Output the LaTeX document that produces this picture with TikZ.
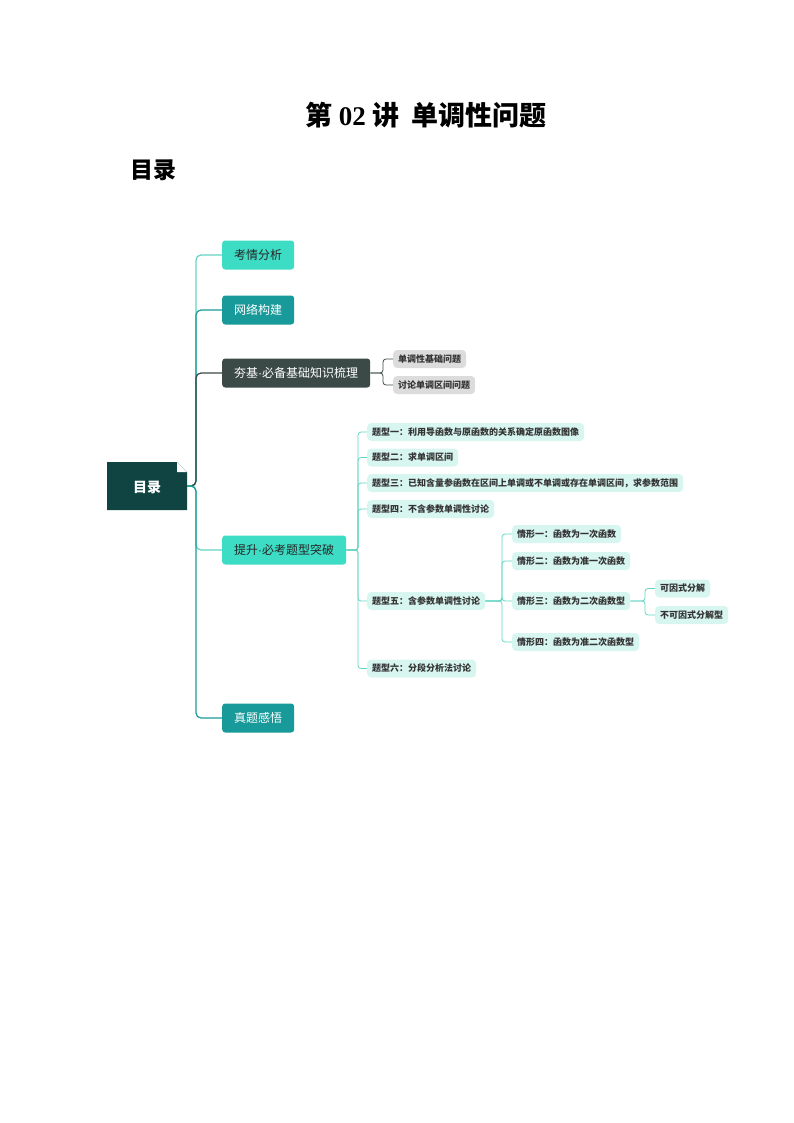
\documentclass[tikz,border=0pt]{standalone}
\usepackage{fontspec}
\setmainfont{Noto Sans CJK SC}
\newfontfamily\serifcjk{Liberation Serif}
\newfontfamily\latin{Liberation Sans}
\begin{document}
\begin{tikzpicture}[x=1pt,y=-1pt,
  lone/.style={rounded corners=3pt,minimum height=29pt,inner xsep=12pt,font=\fontsize{12}{14}\selectfont,anchor=west,text=white},
  ltwo/.style={rounded corners=4pt,minimum height=18pt,inner xsep=5pt,font=\fontsize{9}{11}\selectfont\bfseries,anchor=west,text=black!80},
  tealfill/.style={fill=cA,text=black!85},
  lnA/.style={draw=cL,line width=1.2pt,rounded corners=5pt},
  lnB/.style={draw=cL,line width=0.8pt,rounded corners=3pt}]
\definecolor{cA}{HTML}{3DDCC4}
\definecolor{cB}{HTML}{179A99}
\definecolor{cD}{HTML}{3C4A47}
\definecolor{cR}{HTML}{0F4443}
\definecolor{cL}{HTML}{62D4C4}
\definecolor{cS}{HTML}{D8F6F0}
\definecolor{cG}{HTML}{DCDCDC}
\useasboundingbox (0,0) rectangle (794,1123);
\node (title) at (426,115) {\fontsize{27}{30}\selectfont\bfseries 第 {\serifcjk 02} 讲\ \ 单调性问题};
\node (toc) at (153,170) {\fontsize{23}{26}\selectfont\bfseries 目录};
% root
\fill[cR] (107,462) -- (177,462) -- (187,472) -- (187,510) -- (107,510) -- cycle;
\fill[white] (177,462) -- (177,472) -- (187,472) -- cycle;
\node[text=white,font=\fontsize{14}{16}\selectfont\bfseries] (root) at (147,487) {目录};
\coordinate (rp) at (187,486);
% level 1
\node[lone,tealfill] (a) at (222,255) {考情分析};
\node[lone,fill=cB] (b) at (222,310) {网络构建};
\node[lone,fill=cD] (c) at (222,373) {夯基{\latin ·}必备基础知识梳理};
\node[lone,tealfill] (d) at (222,550) {提升{\latin ·}必考题型突破};
\node[lone,fill=cB] (e) at (222,718) {真题感悟};
\draw[lnA] (rp) -- (196,486) |- (a.west);
\draw[lnA,draw=cB] (rp) -- (196,486) |- (b.west);
\draw[lnA,draw=cD] (rp) -- (196,486) |- (c.west);
\draw[lnA] (rp) -- (196,486) |- (d.west);
\draw[lnA,draw=cB] (rp) -- (196,486) |- (e.west);
% 夯基 children
\node[ltwo,fill=cG] (c1) at (393,359) {单调性基础问题};
\node[ltwo,fill=cG] (c2) at (393,385) {讨论单调区间问题};
\foreach \n in {c1,c2} \draw[lnB,draw=cD] (c.east) -- (383,373) |- (\n.west);
% 提升 children
\node[ltwo,fill=cS] (d1) at (367,432) {题型一：利用导函数与原函数的关系确定原函数图像};
\node[ltwo,fill=cS] (d2) at (367,457.5) {题型二：求单调区间};
\node[ltwo,fill=cS] (d3) at (367,483) {题型三：已知含量参函数在区间上单调或不单调或存在单调区间，求参数范围};
\node[ltwo,fill=cS] (d4) at (367,509) {题型四：不含参数单调性讨论};
\node[ltwo,fill=cS] (d5) at (367,601) {题型五：含参数单调性讨论};
\node[ltwo,fill=cS] (d6) at (367,668.5) {题型六：分段分析法讨论};
\foreach \n in {d1,d2,d3,d4,d5,d6} \draw[lnB] (d.east) -- (358,550) |- (\n.west);
% 题型五 children
\node[ltwo,fill=cS] (f1) at (512,534) {情形一：函数为一次函数};
\node[ltwo,fill=cS] (f2) at (512,561) {情形二：函数为准一次函数};
\node[ltwo,fill=cS] (f3) at (512,601) {情形三：函数为二次函数型};
\node[ltwo,fill=cS] (f4) at (512,642) {情形四：函数为准二次函数型};
\foreach \n in {f1,f2,f3,f4} \draw[lnB] (d5.east) -- (502,601) |- (\n.west);
% 情形三 children
\node[ltwo,fill=cS] (g1) at (655,588.5) {可因式分解};
\node[ltwo,fill=cS] (g2) at (655,615) {不可因式分解型};
\foreach \n in {g1,g2} \draw[lnB] (f3.east) -- (645,601) |- (\n.west);
\end{tikzpicture}
\end{document}
